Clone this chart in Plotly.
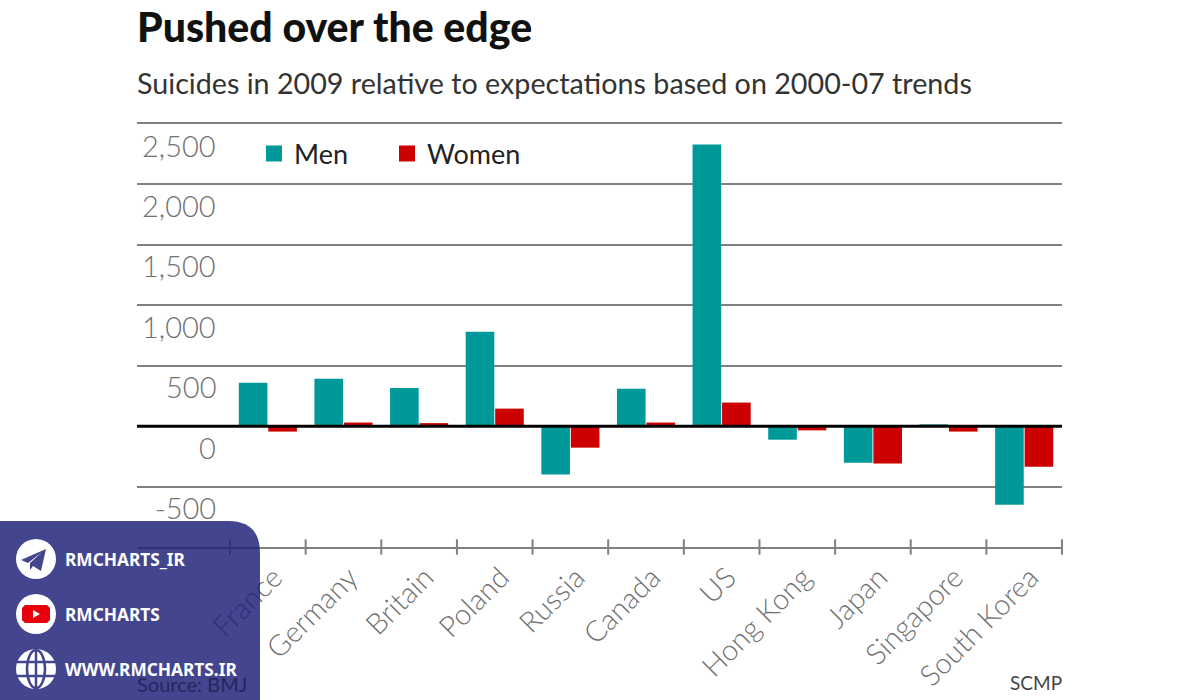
import plotly.graph_objects as go

categories = ["France", "Germany", "Britain", "Poland", "Russia", "Canada", "US",
              "Hong Kong", "Japan", "Singapore", "South Korea"]
men = [360, 393, 315, 782, -400, 310, 2330, -112, -302, 15, -650]
women = [-45, 30, 25, 145, -178, 30, 195, -35, -310, -45, -335]
y_ticks = [2500, 2000, 1500, 1000, 500, 0, -500]
y_labels = ["2,500", "2,000", "1,500", "1,000", "500", "0", "-500"]
teal, red = "#009999", "#cc0000"
grey, panel, panel_solid = "#808080", "#22257b", "#43468f"
FONT = "Lato"

L, R, T, B = 137, 1062, 124, 547
def px(x): return (x - L) / (R - L)
def py(y): return (B - y) / (B - T)
def poly(points, close=True):
    s = "M " + " L ".join(f"{px(x):.5f},{py(y):.5f}" for x, y in points)
    return s + (" Z" if close else "")

xs = list(range(len(categories)))
bounds = [i - 0.5 for i in range(len(categories) + 1)]

fig = go.Figure()
fig.add_bar(x=xs, y=men, marker=dict(color=teal, line_width=0), showlegend=False)
fig.add_bar(x=xs, y=women, marker=dict(color=red, line_width=0), showlegend=False)
fig.add_scatter(x=[None], y=[None], mode="markers", name="Men", legend="legend",
                marker=dict(symbol="square", size=16, color=teal))
fig.add_scatter(x=[None], y=[None], mode="markers", name="Women", legend="legend2",
                marker=dict(symbol="square", size=16, color=red))
fig.add_scatter(x=bounds, y=[-1000] * len(bounds), mode="markers", showlegend=False,
                hoverinfo="skip", cliponaxis=False,
                marker=dict(symbol="line-ns-open", size=11, color=grey, line=dict(color=grey, width=2)))

shapes = [
    dict(type="line", xref="paper", x0=0, x1=1, yref="y", y0=0, y1=0,
         line=dict(color="#000000", width=3), layer="above"),
    dict(type="path", xref="paper", yref="paper", line_width=0, fillcolor=panel, opacity=0.85,
         path=f"M {px(0):.5f},{py(700):.5f} L {px(0):.5f},{py(521):.5f} L {px(228):.5f},{py(521):.5f} "
              f"Q {px(260):.5f},{py(521):.5f} {px(260):.5f},{py(553):.5f} L {px(260):.5f},{py(700):.5f} Z"),
]
for cy in (559, 614, 669):
    shapes.append(dict(type="circle", xref="paper", yref="paper", x0=px(16), x1=px(56),
                       y0=py(cy + 20), y1=py(cy - 20), fillcolor="white", line_width=0))
def add_path(points, fill=None, stroke=None, w=2):
    shapes.append(dict(type="path", xref="paper", yref="paper", path=poly(points, fill is not None),
                       fillcolor=fill, line=dict(color=stroke, width=w if stroke else 0)))
add_path([(21, 560), (46, 549), (41, 571), (33, 566), (30, 570), (30, 563), (42, 552), (28, 563)], fill=panel_solid)
shapes.append(dict(type="path", xref="paper", yref="paper", fillcolor="#e8000f", line_width=0,
                   path=poly([(25, 605), (47, 605), (50, 608), (50, 620), (47, 623), (25, 623), (22, 620), (22, 608)])))
add_path([(33, 610), (40, 614), (33, 618)], fill="white")
shapes.append(dict(type="circle", xref="paper", yref="paper", x0=px(27), x1=px(45), y0=py(688), y1=py(650),
                   fillcolor="rgba(0,0,0,0)", line=dict(color=panel_solid, width=2.5)))
add_path([(17, 662), (55, 662)], stroke=panel_solid, w=2.5)
add_path([(17, 676), (55, 676)], stroke=panel_solid, w=2.5)
add_path([(36, 650), (36, 688)], stroke=panel_solid, w=2.5)

ann = []
for v, t in zip(y_ticks, y_labels):
    ann.append(dict(xref="paper", x=px(216), yref="y", y=v, yshift=-21, xshift=2, text=t, showarrow=False,
                    xanchor="right", yanchor="middle", font=dict(family=FONT, size=29, weight=300, color="#707070")))
ann.append(dict(xref="paper", yref="paper", x=0, y=py(83), text="Suicides in 2009 relative to expectations based on 2000-07 trends",
                showarrow=False, xanchor="left", yanchor="middle", xshift=-2,
                font=dict(family=FONT, size=28.7, color="#333333")))
ann.append(dict(xref="paper", yref="paper", x=0, y=py(684), text="Source: BMJ", showarrow=False, xanchor="left",
                yanchor="middle", xshift=-2, font=dict(family=FONT, size=20, color="#24265f")))
ann.append(dict(xref="paper", yref="paper", x=1, y=py(682), text="SCMP", showarrow=False, xanchor="right",
                yanchor="middle", xshift=2, font=dict(family=FONT, size=19, color="#444444")))
for cy, t in zip((559, 614, 669), ("RMCHARTS_IR", "RMCHARTS", "WWW.RMCHARTS.IR")):
    ann.append(dict(xref="paper", yref="paper", x=px(65), y=py(cy), text=t, showarrow=False, xanchor="left",
                    yanchor="middle", xshift=-2, font=dict(family="Noto Sans", size=17.3, color="white", weight=700)))

legend_common = dict(orientation="h", yanchor="middle", xanchor="left", bgcolor="rgba(0,0,0,0)",
                     itemclick=False, itemdoubleclick=False, font=dict(family=FONT, size=27, color="#222222"))

fig.update_layout(
    width=1200, height=700, margin=dict(l=L, r=1200 - R, t=T, b=700 - B, pad=0, autoexpand=False),
    paper_bgcolor="white", plot_bgcolor="white",
    barmode="group", bargap=0.22, bargroupgap=0.03,
    title=dict(text="Pushed over the edge", xref="paper", x=0, xanchor="left", yref="container",
               y=1 - 28 / 700, yanchor="middle", font=dict(family=FONT, size=41, weight=900, color="#111111")),
    xaxis=dict(range=[-1.73, 10.5], tickmode="array", tickvals=[x + 0.08 for x in xs], ticktext=categories,
               tickangle=-45, ticks="", showgrid=False, zeroline=False, showline=True, mirror=True, linecolor=grey,
               linewidth=2, tickfont=dict(family=FONT, size=29, weight=300, color="#707070")),
    yaxis=dict(range=[-1000, 2500], tickmode="array", tickvals=y_ticks, showticklabels=False, ticks="",
               showgrid=True, gridcolor=grey, gridwidth=2, zeroline=False, showline=False),
    legend=dict(x=px(254), y=py(154), **legend_common),
    legend2=dict(x=px(387), y=py(154), **legend_common),
    shapes=shapes, annotations=ann, hovermode=False,
)
fig.write_html("out.html", config={"displayModeBar": False},
               post_script="document.body.style.margin='0';")
